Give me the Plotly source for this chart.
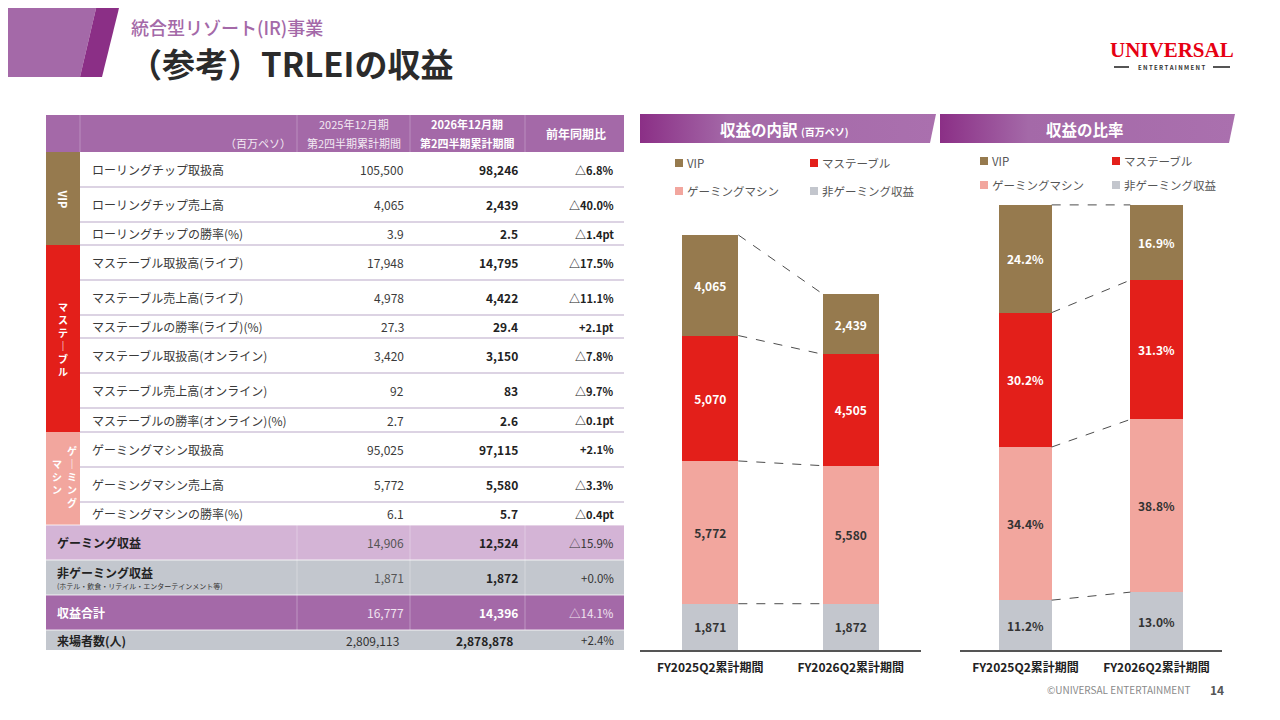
import itertools
import plotly.graph_objects as go

FONT = "Noto Sans CJK JP"
OFF = 8                 # page body margin of the html page
W, H = 1280 - OFF, 720 - OFF

# ---- data ----
periods = ["FY2025Q2累計期間", "FY2026Q2累計期間"]
segments = ["非ゲーミング収益", "ゲーミングマシン", "マステーブル", "VIP"]   # bottom -> top
revenue_2025 = [1871, 5772, 5070, 4065]
revenue_2026 = [1872, 5580, 4505, 2439]
share_2025 = [11.2, 34.4, 30.2, 24.2]
share_2026 = [13.0, 38.8, 31.3, 16.9]
legend_order = ["VIP", "マステーブル", "ゲーミングマシン", "非ゲーミング収益"]

row_labels = [
    "ローリングチップ取扱高", "ローリングチップ売上高", "ローリングチップの勝率(%)",
    "マステーブル取扱高(ライブ)", "マステーブル売上高(ライブ)", "マステーブルの勝率(ライブ)(%)",
    "マステーブル取扱高(オンライン)", "マステーブル売上高(オンライン)", "マステーブルの勝率(オンライン)(%)",
    "ゲーミングマシン取扱高", "ゲーミングマシン売上高", "ゲーミングマシンの勝率(%)",
    "ゲーミング収益", "非ゲーミング収益", "収益合計", "来場者数(人)",
]
values_2025 = ["105,500", "4,065", "3.9", "17,948", "4,978", "27.3", "3,420", "92", "2.7",
               "95,025", "5,772", "6.1", "14,906", "1,871", "16,777", "2,809,113"]
values_2026 = ["98,246", "2,439", "2.5", "14,795", "4,422", "29.4", "3,150", "83", "2.6",
               "97,115", "5,580", "5.7", "12,524", "1,872", "14,396", "2,878,878"]
yoy = ["△6.8%", "△40.0%", "△1.4pt", "△17.5%", "△11.1%", "+2.1pt", "△7.8%", "△9.7%", "△0.1pt",
       "+2.1%", "△3.3%", "△0.4pt", "△15.9%", "+0.0%", "△14.1%", "+2.4%"]
non_gaming_note = "(ホテル・飲食・リテイル・エンターテインメント等)"

# ---- styling ----
seg_colors = {"VIP": "#967a4e", "マステーブル": "#e31f1a",
              "ゲーミングマシン": "#f2a69e", "非ゲーミング収益": "#c3c6cd"}
seg_text = {"VIP": "white", "マステーブル": "white",
            "ゲーミングマシン": "#333333", "非ゲーミング収益": "#333333"}
PURPLE = "#a469a8"
DARK_PURPLE = "#8b2f86"
row_h = [35, 35, 23, 35, 35, 23, 35, 35, 24, 35, 35, 23, 35, 35, 35, 20]
bands = [("VIP", 0, 3), ("マステーブル", 3, 9), ("ゲーミングマシン", 9, 12)]
summary_bg = ["#d4b4d6", "#c3c7ce", PURPLE, "#c3c7ce"]


def X(p):
    return (p - OFF) / W


def Y(p):
    return 1 - (p - OFF) / H


annotations = []
shapes = []


def text(x, y, s, size=12, color="#333333", bold=False, anchor="left", weight=None, **kw):
    annotations.append(dict(
        x=X(x), y=Y(y), xref="paper", yref="paper", text=s, showarrow=False,
        xanchor=anchor, yanchor="middle",
        font=dict(family=FONT, size=size, color=color,
                  weight=weight or (700 if bold else 400)), **kw))


def rect(x0, y0, x1, y1, color, layer="below"):
    shapes.append(dict(type="rect", xref="paper", yref="paper",
                       x0=X(x0), x1=X(x1), y0=Y(y1), y1=Y(y0),
                       fillcolor=color, line_width=0, layer=layer))


def line(x0, y0, x1, y1, color, width=1):
    shapes.append(dict(type="line", xref="paper", yref="paper",
                       x0=X(x0), x1=X(x1), y0=Y(y0), y1=Y(y1),
                       line=dict(color=color, width=width)))


def poly(pts, color):
    path = "M " + " L ".join(f"{X(a)},{Y(b)}" for a, b in pts) + " Z"
    shapes.append(dict(type="path", xref="paper", yref="paper", path=path,
                       fillcolor=color, line_width=0, layer="below"))


# ---- page header ----
poly([(0, 0), (98, 0), (80, 77), (0, 77)], PURPLE)
poly([(98, 0), (121, 0), (102, 77), (80, 77)], DARK_PURPLE)
text(129, 27, "統合型リゾート(IR)事業", size=18, color=PURPLE, weight=500)
text(127, 63, "（参考）TRLEIの収益", size=33, color="#2b2b2b", bold=True)

annotations.append(dict(x=X(1172), y=Y(50), xref="paper", yref="paper", text="UNIVERSAL",
                        showarrow=False, xanchor="center", yanchor="middle",
                        font=dict(family="Liberation Serif", size=21, color="#e60012", weight=700)))
text(1171, 68, "E N T E R T A I N M E N T", size=6, color="#333333", bold=True, anchor="center")
line(1114, 67, 1129, 67, "#555555", 2)
line(1213, 67, 1230, 67, "#555555", 2)

# footer
text(1192, 689, "©UNIVERSAL ENTERTAINMENT", size=10, color="#8a8a8a", anchor="right")
text(1217, 689, "14", size=12, color="#555555", bold=True, anchor="center")

# ---- table ----
TL, TB, C1, C2, C3, TR = 46, 80, 297, 410, 525, 624
HY0, HY1 = 115, 152
rect(TL, HY0, TR, HY1, PURPLE)
for cx in (TB, C1, C2, C3):
    line(cx, HY0, cx, HY1, "rgba(255,255,255,0.25)", 1)
text(293, 143, "（百万ペソ）", size=11, color="#f3e9f3", anchor="right")
text(354, 124, "2025年12月期", size=11, color="#f3e9f3", anchor="center")
text(354, 143, "第2四半期累計期間", size=11, color="#f3e9f3", anchor="center")
text(467, 124, "2026年12月期", size=11, color="white", bold=True, anchor="center")
text(467, 143, "第2四半期累計期間", size=11, color="white", bold=True, anchor="center")
text(576, 133, "前年同期比", size=12, color="white", bold=True, anchor="center")

tops = list(itertools.accumulate(row_h, initial=HY1))
n_detail = 12
for i, label in enumerate(row_labels):
    y0, y1 = tops[i], tops[i + 1]
    yc = (y0 + y1) / 2
    if i < n_detail:
        if i > 0:
            line(TB, y0, TR, y0, "#dcd3e3", 2)
        text(90, yc, label, size=12, color="#3a3a3a")
        text(406, yc, values_2025[i], size=12, color="#3a3a3a", anchor="right")
        text(520, yc, values_2026[i], size=12, color="#222222", bold=True, anchor="right")
        text(616, yc, yoy[i], size=11, color="#222222", bold=True, anchor="right")
    else:
        k = i - n_detail
        last = i == len(row_labels) - 1
        rect(TL, y0, TR, y1, summary_bg[k])
        if not last:
            for cx in (C1, C2, C3):
                line(cx, y0, cx, y1, "rgba(255,255,255,0.3)", 1)
        line(TL, y0, TR, y0, "rgba(255,255,255,0.8)", 1)
        light = summary_bg[k] == PURPLE
        main_c = "white" if light else "#222222"
        sub_c = "#f0e4f0" if light else ("#333333" if last else "#555555")
        yoy_c = "#f0e4f0" if light else "#333333"
        if label == "非ゲーミング収益":
            text(55, yc - 5, label, size=12, color=main_c, bold=True)
            text(55, yc + 8, non_gaming_note, size=7, color="#333333")
        else:
            text(55, yc, label, size=12, color=main_c, bold=True)
        text(401 if last else 406, yc, values_2025[i], size=12, color=sub_c, anchor="right")
        text(515 if last else 520, yc, values_2026[i], size=12, color=main_c, bold=True,
             anchor="right")
        text(616, yc, yoy[i], size=11.5, color=yoy_c, anchor="right")

for name, r0, r1 in bands:
    rect(TL, tops[r0], TB, tops[r1], seg_colors[name])
    yc = (tops[r0] + tops[r1]) / 2
    if name == "VIP":
        text(63, yc, "VIP", size=11, color="white", bold=True, anchor="center", textangle=90)
    elif name == "マステーブル":
        text(63, yc, "<br>".join("マステ｜ブル"), size=10, color="white", bold=True, anchor="center")
    else:
        text(72, yc - 2, "<br>".join("ゲ｜ミング"), size=10, color="white", bold=True, anchor="center")
        text(57, yc - 2, "<br>".join("マシン"), size=10, color="white", bold=True, anchor="center")

# ---- charts ----
fig = go.Figure()

# banner gradients on a full-page canvas axis
for xs, title in [((640, 936, 930), "<b>収益の内訳</b> <span style='font-size:10px'><b>(百万ペソ)</b></span>"),
                  ((940, 1235, 1229), "<b>収益の比率</b>")]:
    a, b, c = xs
    fig.add_trace(go.Scatter(
        x=[a, b, c, a, a], y=[114, 114, 143, 143, 114], mode="lines", fill="toself",
        fillgradient=dict(type="horizontal",
                          colorscale=[[0, DARK_PURPLE], [0.3, PURPLE], [1, "#aa70ae"]]),
        line=dict(width=0), hoverinfo="skip", xaxis="x3", yaxis="y3", showlegend=False))
    text((a + c) / 2, 129, title, size=15.5, color="white", anchor="center")

# legends
for (lx, ly, dx, dy) in [(675, 163, 135, 28), (980, 161, 132, 24)]:
    for j, name in enumerate(legend_order):
        sx = lx + (j % 2) * dx
        sy = ly + (j // 2) * dy
        rect(sx, sy - 4, sx + 8, sy + 4, seg_colors[name], layer="above")
        text(sx + 10, sy, name, size=11.5, color="#555555")

charts = [
    ("x", "y", revenue_2025, revenue_2026, lambda v: f"{v:,}"),
    ("x2", "y2", share_2025, share_2026, lambda v: f"{v:.1f}%"),
]
for xa, ya, s25, s26, fmt in charts:
    for i, seg in enumerate(segments):
        vals = [s25[i], s26[i]]
        fig.add_trace(go.Bar(
            x=[0, 1], y=vals, width=0.4, marker=dict(color=seg_colors[seg], line_width=0),
            text=[fmt(v) for v in vals], textposition="inside", insidetextanchor="middle",
            textangle=0, constraintext="none",
            textfont=dict(family=FONT, size=12, color=seg_text[seg], weight=700),
            xaxis=xa, yaxis=ya, showlegend=False, hoverinfo="skip"))
    cum25 = list(itertools.accumulate(s25))
    cum26 = list(itertools.accumulate(s26))
    for a, b in zip(cum25, cum26):
        fig.add_trace(go.Scatter(
            x=[0.2, 0.8], y=[a, b], mode="lines",
            line=dict(color="#4d4d4d", width=1, dash="dash"),
            xaxis=xa, yaxis=ya, showlegend=False, hoverinfo="skip"))

axis_x = dict(range=[-0.5, 1.5], tickvals=[0, 1], ticktext=periods, showline=True,
              linecolor="#555555", linewidth=1.5, ticks="outside", ticklen=6,
              tickcolor="rgba(0,0,0,0)", showgrid=False, zeroline=False,
              tickfont=dict(family=FONT, size=12, color="#222222", weight=700))
axis_y = dict(visible=False, showgrid=False, zeroline=False)

fig.update_layout(
    width=W, height=H, margin=dict(l=0, r=0, t=0, b=0),
    paper_bgcolor="white", plot_bgcolor="rgba(0,0,0,0)",
    barmode="stack", showlegend=False, font=dict(family=FONT),
    xaxis=dict(axis_x, domain=[X(640), X(921)], anchor="y"),
    yaxis=dict(axis_y, domain=[Y(650), Y(200)], range=[0, 18193], anchor="x"),
    xaxis2=dict(axis_x, domain=[X(960), X(1222)], anchor="y2"),
    yaxis2=dict(axis_y, domain=[Y(650), Y(200)], range=[0, 101.1], anchor="x2"),
    xaxis3=dict(domain=[0, 1], range=[OFF, 1280], visible=False, anchor="y3"),
    yaxis3=dict(domain=[0, 1], range=[720, OFF], visible=False, anchor="x3"),
    shapes=shapes, annotations=annotations,
)

fig.write_html("out.html")
